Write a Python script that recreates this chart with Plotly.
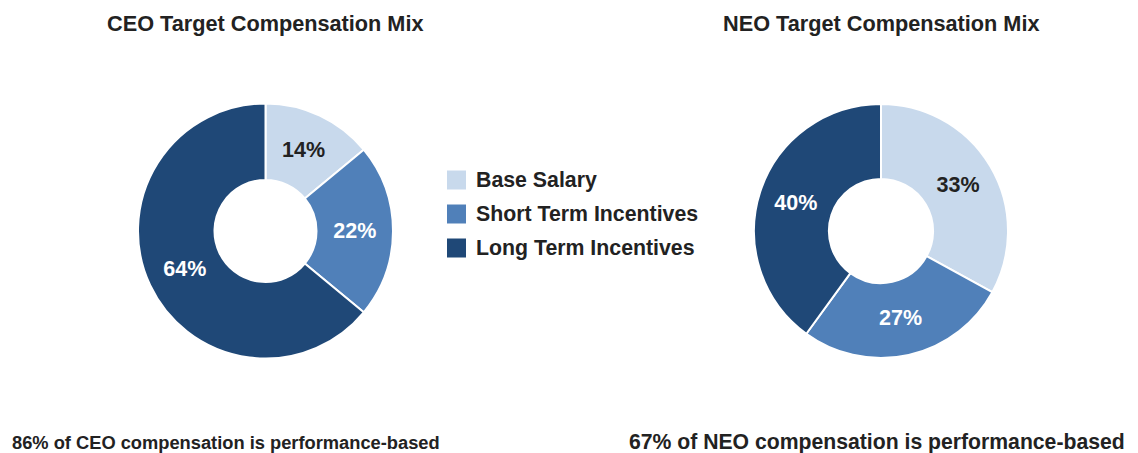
import plotly.graph_objects as go

W, H = 1138, 453

categories = ["Base Salary", "Short Term Incentives", "Long Term Incentives"]
ceo_values = [14, 22, 64]
neo_values = [33, 27, 40]
colors = ["#c8d9ec", "#5080b9", "#1f4877"]
label_colors = ["#222222", "#ffffff", "#ffffff"]
titles = ["CEO Target Compensation Mix", "NEO Target Compensation Mix"]
footnotes = ["86% of CEO compensation is performance-based",
             "67% of NEO compensation is performance-based"]

FONT = "Liberation Sans, Arial, Helvetica, sans-serif"


def px_x(x):
    return x / W


def px_y(y):
    return 1 - y / H


def donut(values, cx, cy, r, hole):
    return go.Pie(
        labels=categories,
        values=values,
        sort=False,
        direction="clockwise",
        rotation=0,
        hole=hole,
        marker=dict(colors=colors, line=dict(color="white", width=2)),
        texttemplate="%{value}%",
        textposition="inside",
        insidetextorientation="horizontal",
        insidetextfont=dict(family=FONT, size=21.5, color=label_colors, weight="bold"),
        hoverinfo="label+percent",
        showlegend=False,
        domain=dict(x=[px_x(cx - r), px_x(cx + r)], y=[px_y(cy + r), px_y(cy - r)]),
    )


fig = go.Figure()
fig.add_trace(donut(ceo_values, 265.5, 231, 127.5, 0.40))
fig.add_trace(donut(neo_values, 881, 231, 127, 0.41))

annotations = []
shapes = []

# Titles
for t, cx in zip(titles, [265, 881.5]):
    annotations.append(dict(
        text=t, x=px_x(cx), y=px_y(23), xref="paper", yref="paper",
        xanchor="center", yanchor="middle", showarrow=False,
        font=dict(family=FONT, size=21.7, color="#222222", weight="bold"),
    ))

# Footnotes
for t, x0, fs in zip(footnotes, [10, 627], [18.3, 21.2]):
    annotations.append(dict(
        text=t, x=px_x(x0), y=px_y(442), xref="paper", yref="paper",
        xanchor="left", yanchor="middle", showarrow=False,
        font=dict(family=FONT, size=fs, color="#222222", weight="bold"),
    ))

# Legend (built from categories and colors)
row_y = [180, 214, 248]
for cat, col, yc in zip(categories, colors, row_y):
    shapes.append(dict(
        type="rect", xref="paper", yref="paper",
        x0=px_x(447), x1=px_x(466), y0=px_y(yc + 9.5), y1=px_y(yc - 9.5),
        fillcolor=col, line=dict(width=0),
    ))
    annotations.append(dict(
        text=cat, x=px_x(474), y=px_y(yc), xref="paper", yref="paper",
        xanchor="left", yanchor="middle", showarrow=False,
        font=dict(family=FONT, size=21.3, color="#222222", weight="bold"),
    ))

fig.update_layout(
    width=W, height=H,
    margin=dict(l=0, r=0, t=0, b=0),
    paper_bgcolor="white",
    plot_bgcolor="white",
    annotations=annotations,
    shapes=shapes,
)

fig.write_html("out.html")
